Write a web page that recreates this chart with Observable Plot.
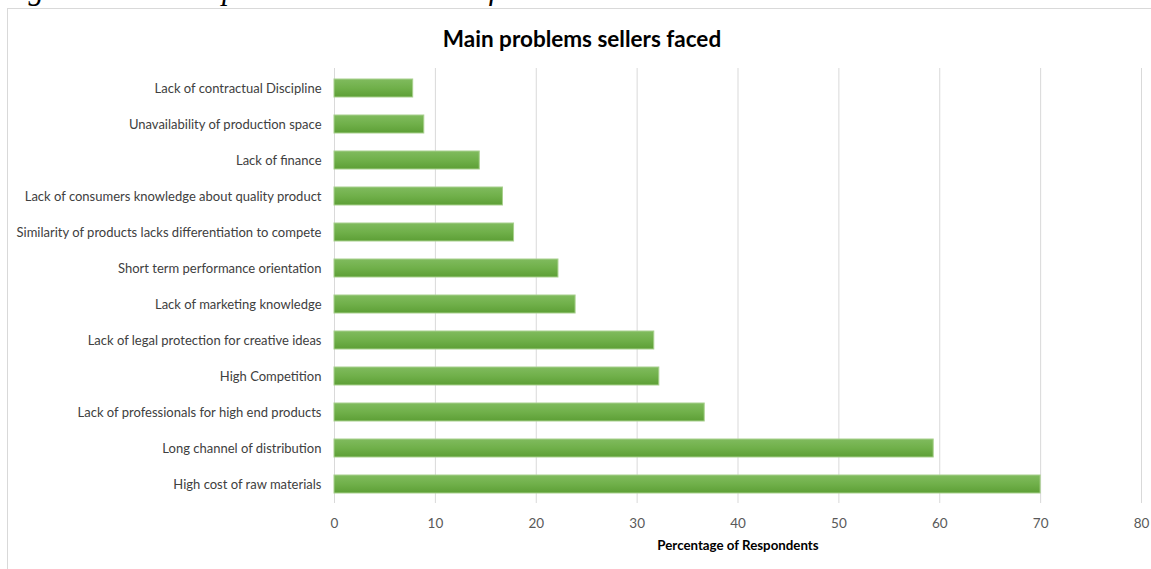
<!DOCTYPE html>
<html>
<head>
<meta charset="utf-8">
<script src="https://cdn.jsdelivr.net/npm/d3@7"></script>
<script src="https://cdn.jsdelivr.net/npm/@observablehq/plot@0.6"></script>
<style>
  html, body { margin: 0; padding: 0; background: #fff; }
  #page { position: relative; width: 1151px; height: 569px; overflow: hidden; background: #fff; }
  #fig { position: absolute; left: 1px; top: -29px; font-family: "Liberation Serif", serif; font-style: italic; font-size: 31px; color: #000; white-space: nowrap; }
  #box { position: absolute; left: 7px; top: 8px; width: 1160px; height: 580px; border: 1px solid #d9d9d9; box-sizing: border-box; background: #fff; }
  #title { position: absolute; left: 0; width: 1164px; top: 25px; text-align: center; font-family: Lato, "Open Sans", sans-serif; font-weight: bold; font-size: 22.5px; color: #000; }
  #chart { position: absolute; left: 0; top: 50px; }
</style>
</head>
<body>
<div id="page">
  <div id="fig">Figure 4.1: Main problems that sellers faced</div>
  <div id="box"></div>
  <div id="title">Main problems sellers faced</div>
  <div id="chart"></div>
</div>
<script>
const categories = [
  "Lack of contractual Discipline",
  "Unavailability of production space",
  "Lack of finance",
  "Lack of consumers knowledge about quality product",
  "Similarity of products lacks differentiation to compete",
  "Short term performance orientation",
  "Lack of marketing knowledge",
  "Lack of legal protection for creative ideas",
  "High Competition",
  "Lack of professionals for high end products",
  "Long channel of distribution",
  "High cost of raw materials"
];
const values = [7.8, 8.9, 14.4, 16.7, 17.8, 22.2, 23.9, 31.7, 32.2, 36.7, 59.4, 70.0];
const xTicks = [0, 10, 20, 30, 40, 50, 60, 70, 80];
const xLabel = "Percentage of Respondents";

const data = categories.map((c, i) => ({category: c, value: values[i]}));

const chart = Plot.plot({
  width: 1151,
  height: 519,
  marginLeft: 334,
  marginRight: 10,
  marginTop: 18,
  marginBottom: 66,
  style: {fontFamily: "Lato, 'Open Sans', sans-serif", fontSize: "13px", color: "#404040", background: "transparent"},
  x: {domain: [0, 80], ticks: xTicks, label: null},
  y: {domain: categories, paddingInner: 0.5, paddingOuter: 0.25, label: null},
  marks: [
    Plot.gridX(xTicks, {stroke: "#d9d9d9", strokeOpacity: 1, strokeWidth: 1}),
    Plot.barX(data, {y: "category", x: "value", fill: "url(#barGrad)", stroke: "#a8d08d", strokeWidth: 1}),
    Plot.axisX(xTicks, {tickSize: 0, tickPadding: 15, fontSize: 13.5, fill: "#595959"}),
    Plot.axisY({tickSize: 0, tickPadding: 13, fontSize: 13, fill: "#404040"}),
    Plot.text([xLabel], {frameAnchor: "bottom", dy: 46, fontWeight: "bold", fontSize: 13.3, fill: "#000"})
  ]
});

const ns = "http://www.w3.org/2000/svg";
const defs = document.createElementNS(ns, "defs");
const grad = document.createElementNS(ns, "linearGradient");
grad.setAttribute("id", "barGrad");
grad.setAttribute("x1", "0"); grad.setAttribute("y1", "0");
grad.setAttribute("x2", "0"); grad.setAttribute("y2", "1");
[["0", "#80bb5e"], ["0.5", "#70b04a"], ["1", "#5d9f36"]].forEach(([o, c]) => {
  const s = document.createElementNS(ns, "stop");
  s.setAttribute("offset", o);
  s.setAttribute("stop-color", c);
  grad.appendChild(s);
});
defs.appendChild(grad);
chart.insertBefore(defs, chart.firstChild);

document.getElementById("chart").appendChild(chart);
</script>
</body>
</html>
